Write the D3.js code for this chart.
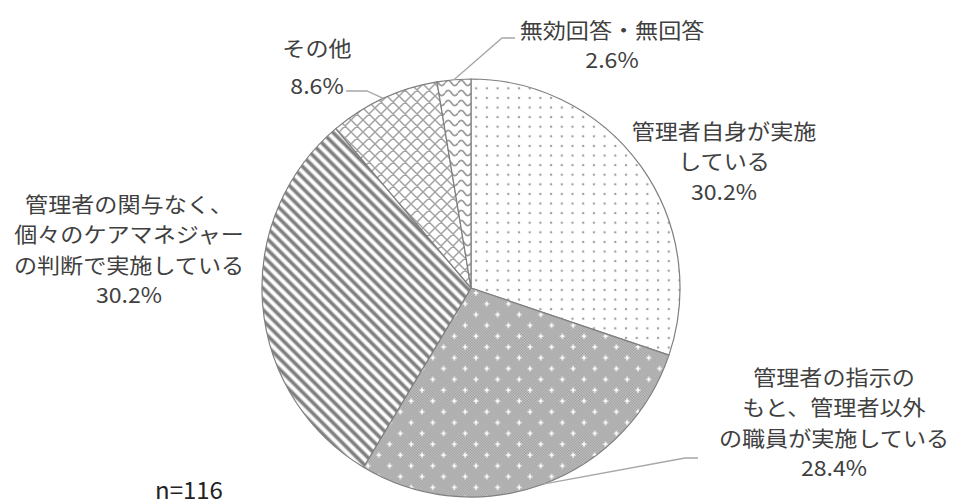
<!DOCTYPE html>
<html><head><meta charset="utf-8">
<script src="https://cdn.jsdelivr.net/npm/d3@7"></script>
<style>body{margin:0;background:#fff;}svg{display:block;}</style>
</head><body>
<svg id="c" width="956" height="504"></svg>
<script>
// ---- data ----
const categories = ["管理者自身が実施している", "管理者の指示のもと、管理者以外の職員が実施している", "管理者の関与なく、個々のケアマネジャーの判断で実施している", "その他", "無効回答・無回答"];
const values = [30.2, 28.4, 30.2, 8.6, 2.6];
const labelLines = [
  ["管理者自身が実施", "している"],
  ["管理者の指示の", "もと、管理者以外", "の職員が実施している"],
  ["管理者の関与なく、", "個々のケアマネジャー", "の判断で実施している"],
  ["その他"],
  ["無効回答・無回答"]
];
const sampleNote = "n=116";

// ---- layout ----
const W = 956, H = 504;
const cx = 471, cy = 288, R = 209;
const labelPos = [ {x:724, y:129}, {x:834, y:375}, {x:129, y:202}, {x:317, y:47}, {x:612, y:28} ];
const leaders = [ null, [[685,458],[698,458]], null, [[367,91],[346,91]], [[502,38],[515,38]] ];
const lineH = 30.5;
const textColor = "#404040";
const font = "'Noto Sans CJK JP', 'Noto Sans', sans-serif";
const fontSize = 21, xScale = 1.1;

const svg = d3.select("#c");
const defs = svg.append("defs");

// pattern 0: dotted
const p0 = defs.append("pattern").attr("id","pat0").attr("patternUnits","userSpaceOnUse")
  .attr("width",10.7).attr("height",9.6).attr("x",cx+3).attr("y",cy);
p0.append("rect").attr("width",10.7).attr("height",9.6).attr("fill","#fff");
p0.append("circle").attr("cx",2).attr("cy",2).attr("r",1.2).attr("fill","#a0a0a0");

// checker sub-pattern
const pc = defs.append("pattern").attr("id","checker").attr("patternUnits","userSpaceOnUse")
  .attr("width",2.7).attr("height",2.7);
pc.append("rect").attr("width",2.7).attr("height",2.7).attr("fill","#d2d2d2");
pc.append("rect").attr("width",1.35).attr("height",1.35).attr("fill","#8e8e8e");
pc.append("rect").attr("x",1.35).attr("y",1.35).attr("width",1.35).attr("height",1.35).attr("fill","#8e8e8e");

// pattern 1: checker with white crosses
const s1 = 21.6;
const p1 = defs.append("pattern").attr("id","pat1").attr("patternUnits","userSpaceOnUse")
  .attr("width",s1).attr("height",s1);
p1.append("rect").attr("width",s1).attr("height",s1).attr("fill","url(#checker)");
[[5,5],[5+s1/2,5+s1/2]].forEach(([x,y])=>{
  p1.append("path").attr("d",`M${x-2.5},${y}H${x+2.5}M${x},${y-2.5}V${y+2.5}`)
    .attr("stroke","#fff").attr("stroke-width",1.4);
  p1.append("rect").attr("x",x-1).attr("y",y-1).attr("width",2).attr("height",2).attr("fill","#fff");
});

// pattern 2: diagonal stripes "\"
const p2 = defs.append("pattern").attr("id","pat2").attr("patternUnits","userSpaceOnUse")
  .attr("width",20).attr("height",7.6).attr("patternTransform","rotate(45)");
p2.append("rect").attr("width",20).attr("height",7.6).attr("fill","#fff");
p2.append("rect").attr("y",0.6).attr("width",20).attr("height",4.4).attr("fill","#b5b5b5");
p2.append("rect").attr("y",1.5).attr("width",20).attr("height",2.6).attr("fill","#7d7d7d");

// pattern 3: diamond crosshatch
const p3 = defs.append("pattern").attr("id","pat3").attr("patternUnits","userSpaceOnUse")
  .attr("width",12).attr("height",12);
p3.append("rect").attr("width",12).attr("height",12).attr("fill","#fff");
p3.append("path").attr("d","M0,0L12,12M12,0L0,12M-6,6L0,12M6,-6L12,0M6,18L18,6M-6,6L6,-6")
  .attr("stroke","#a3a3a3").attr("stroke-width",1.5).attr("fill","none");

// pattern 4: waves
const p4 = defs.append("pattern").attr("id","pat4").attr("patternUnits","userSpaceOnUse")
  .attr("width",13).attr("height",10);
p4.append("rect").attr("width",13).attr("height",10).attr("fill","#fff");
p4.append("path").attr("d","M0,5 C2.2,1.5 4.3,1.5 6.5,5 C8.7,8.5 10.8,8.5 13,5")
  .attr("stroke","#9a9a9a").attr("stroke-width",1.7).attr("fill","none");

const fills = ["url(#pat0)","url(#pat1)","url(#pat2)","url(#pat3)","url(#pat4)"];

const pie = d3.pie().sort(null).value(d=>d)(values);
const arc = d3.arc().innerRadius(0).outerRadius(R);
const g = svg.append("g").attr("transform",`translate(${cx},${cy})`);
g.selectAll("path.slice").data(pie).join("path").attr("class","slice")
  .attr("d",arc).attr("fill",(d,i)=>fills[i])
  .attr("stroke","#7f7f7f").attr("stroke-width",1.2).attr("stroke-linejoin","round");

// leader lines
const fmt = v => v.toFixed(1) + "%";
pie.forEach((d,i)=>{
  if(!leaders[i]) return;
  const a = (d.startAngle+d.endAngle)/2;
  const sx = cx + R*Math.sin(a), sy = cy - R*Math.cos(a);
  const pts = [[sx,sy], ...leaders[i]];
  svg.append("path").attr("d", d3.line()(pts)).attr("fill","none")
    .attr("stroke","#a6a6a6").attr("stroke-width",1.3);
});

// labels
pie.forEach((d,i)=>{
  const lines = [...labelLines[i], fmt(values[i])];
  const lg = svg.append("g").attr("transform",`translate(${labelPos[i].x},0) scale(${xScale},1)`);
  lines.forEach((ln,k)=>{
    lg.append("text").attr("font-family",font).attr("font-size",fontSize)
      .attr("fill",textColor).attr("text-anchor","middle").attr("dominant-baseline","central")
      .attr("x",0).attr("y",labelPos[i].y + k*lineH + (i===3 && k>0 ? 7 : 0)).text(ln);
  });
});

svg.append("text").attr("x",155).attr("y",488).attr("font-family",font).attr("font-size",24)
  .attr("fill","#222").attr("dominant-baseline","central").text(sampleNote);
</script>
</body></html>
